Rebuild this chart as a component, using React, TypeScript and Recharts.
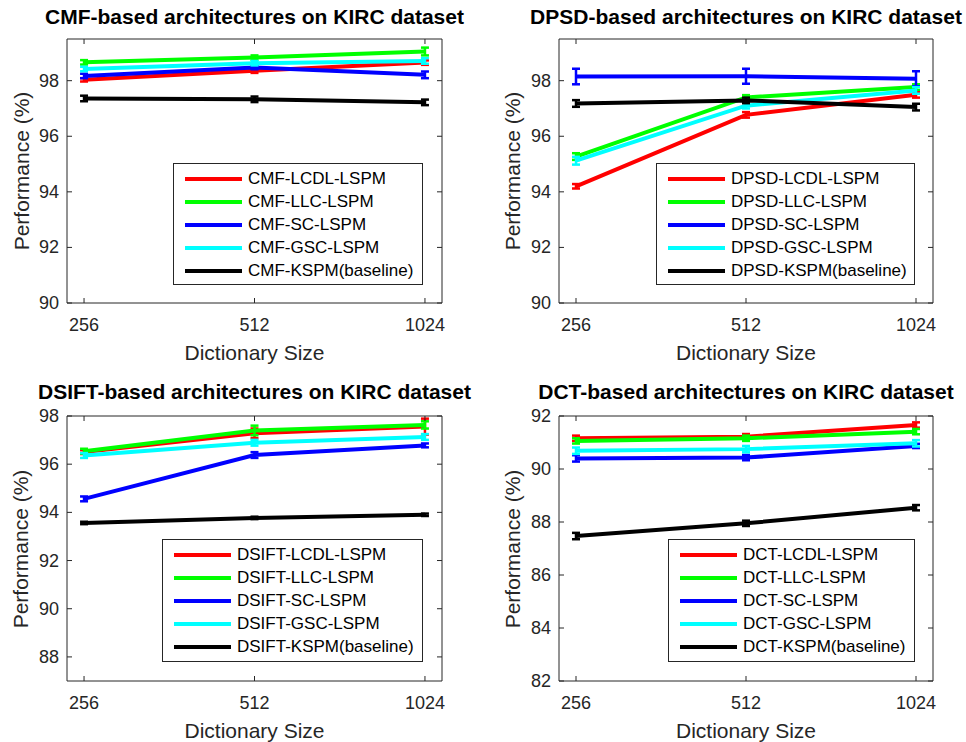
import { LineChart, Line, XAxis, YAxis, ErrorBar, Legend } from "recharts";

const dictSizes = ["256", "512", "1024"];
const methods = ["LCDL-LSPM", "LLC-LSPM", "SC-LSPM", "GSC-LSPM", "KSPM(baseline)"];
const colors = ["#ff0000", "#00ff00", "#0000ff", "#00ffff", "#000000"];

// rows follow `methods`, columns follow `dictSizes`
const cmfValues = [
  [98.03, 98.36, 98.65],
  [98.66, 98.83, 99.05],
  [98.17, 98.47, 98.21],
  [98.42, 98.63, 98.71],
  [97.36, 97.33, 97.22],
];
const cmfErrors = [
  [0.06, 0.08, 0.08],
  [0.08, 0.08, 0.14],
  [0.08, 0.06, 0.12],
  [0.08, 0.08, 0.1],
  [0.1, 0.1, 0.1],
];

const dpsdValues = [
  [94.2, 96.77, 97.49],
  [95.27, 97.4, 97.77],
  [98.15, 98.16, 98.07],
  [95.12, 97.1, 97.65],
  [97.18, 97.29, 97.05],
];
const dpsdErrors = [
  [0.08, 0.1, 0.1],
  [0.12, 0.08, 0.1],
  [0.28, 0.27, 0.27],
  [0.14, 0.1, 0.12],
  [0.12, 0.1, 0.12],
];

const dsiftValues = [
  [96.5, 97.28, 97.56],
  [96.54, 97.4, 97.63],
  [94.56, 96.38, 96.78],
  [96.36, 96.89, 97.13],
  [93.56, 93.77, 93.9],
];
const dsiftErrors = [
  [0.08, 0.2, 0.33],
  [0.1, 0.2, 0.15],
  [0.1, 0.12, 0.08],
  [0.1, 0.12, 0.12],
  [0.05, 0.05, 0.05],
];

const dctValues = [
  [91.16, 91.22, 91.66],
  [91.06, 91.16, 91.41],
  [90.4, 90.43, 90.87],
  [90.69, 90.75, 90.97],
  [87.47, 87.95, 88.54],
];
const dctErrors = [
  [0.1, 0.1, 0.1],
  [0.1, 0.1, 0.1],
  [0.12, 0.1, 0.08],
  [0.12, 0.12, 0.12],
  [0.12, 0.1, 0.1],
];

const ticks9098 = [90, 92, 94, 96, 98];
const ticks8898 = [88, 90, 92, 94, 96, 98];
const ticks8292 = [82, 84, 86, 88, 90, 92];

const AXIS = "#262626";
const FONT = '"Liberation Sans", Arial, Helvetica, sans-serif';
const W = 483;
const H = 371;

function buildRows(values: number[][], errors: number[][]) {
  return dictSizes.map((_, i) => {
    const row: Record<string, number> = { pos: i + 1 };
    values.forEach((s, k) => {
      row["v" + k] = s[i];
      row["e" + k] = errors[k][i];
    });
    return row;
  });
}

function LeftTick({ x, y, payload }: any) {
  return (
    <g>
      <line x1={x} y1={y} x2={x + 5} y2={y} stroke={AXIS} />
      <text x={x - 8} y={y} textAnchor="end" dominantBaseline="central" fontSize={18} fill={AXIS} fontFamily={FONT}>
        {payload.value}
      </text>
    </g>
  );
}

function RightTick({ x, y }: any) {
  return <line x1={x} y1={y} x2={x - 5} y2={y} stroke={AXIS} />;
}

function BottomTick({ x, y, payload }: any) {
  return (
    <g>
      <line x1={x} y1={y} x2={x} y2={y - 5} stroke={AXIS} />
      <text x={x} y={y + 22} textAnchor="middle" dominantBaseline="central" fontSize={18} fill={AXIS} fontFamily={FONT}>
        {dictSizes[payload.value - 1]}
      </text>
    </g>
  );
}

function TopTick({ x, y }: any) {
  return <line x1={x} y1={y} x2={x} y2={y + 5} stroke={AXIS} />;
}

function LegendBox({ prefix }: { prefix: string }) {
  return (
    <div
      style={{
        width: "100%",
        height: "100%",
        boxSizing: "border-box",
        border: `1px solid ${AXIS}`,
        background: "#fff",
        paddingTop: 3,
        fontFamily: FONT,
        fontSize: 17,
        color: "#000",
      }}
    >
      {methods.map((m, k) => (
        <div key={m} style={{ display: "flex", alignItems: "center", height: 23.2, whiteSpace: "nowrap" }}>
          <svg width={69} height={8} style={{ flex: "none" }}>
            <line x1={11} y1={4} x2={68} y2={4} stroke={colors[k]} strokeWidth={4} />
          </svg>
          <span style={{ marginLeft: 5 }}>{`${prefix}-${m}`}</span>
        </div>
      ))}
    </div>
  );
}

type PanelProps = {
  prefix: string;
  values: number[][];
  errors: number[][];
  yDomain: [number, number];
  yTicks: number[];
  left: number;
  top: number;
  plot: { top: number; right: number; bottom: number; left: number };
  legend: { left: number; top: number; width: number; height: number };
  ylabelX: number;
};

function Panel(p: PanelProps) {
  const rows = buildRows(p.values, p.errors);
  const plotCx = p.plot.left + (W - p.plot.left - p.plot.right) / 2;
  const plotCy = p.plot.top + (H - p.plot.top - p.plot.bottom) / 2;
  const plotBottom = H - p.plot.bottom;
  // every axis takes 1px, so the margins are one less than the plot offsets
  const margin = { top: p.plot.top - 1, right: p.plot.right - 1, bottom: p.plot.bottom - 1, left: p.plot.left - 1 };
  return (
    <div style={{ position: "absolute", left: p.left, top: p.top, width: W, height: H }}>
      <LineChart width={W} height={H} data={rows} margin={margin}>
        <XAxis
          dataKey="pos"
          type="number"
          domain={[0.9, 3.1]}
          ticks={[1, 2, 3]}
          interval={0}
          allowDataOverflow
          height={1}
          tickSize={0}
          tickMargin={0}
          tickLine={false}
          axisLine={{ stroke: AXIS }}
          tick={BottomTick}
        />
        <XAxis
          xAxisId="top"
          orientation="top"
          dataKey="pos"
          type="number"
          domain={[0.9, 3.1]}
          ticks={[1, 2, 3]}
          interval={0}
          allowDataOverflow
          height={1}
          tickSize={0}
          tickMargin={0}
          tickLine={false}
          axisLine={{ stroke: AXIS }}
          tick={TopTick}
        />
        <YAxis
          type="number"
          domain={p.yDomain}
          ticks={p.yTicks}
          interval={0}
          allowDataOverflow
          width={1}
          tickSize={0}
          tickMargin={0}
          tickLine={false}
          axisLine={{ stroke: AXIS }}
          tick={LeftTick}
        />
        <YAxis
          yAxisId="right"
          orientation="right"
          type="number"
          domain={p.yDomain}
          ticks={p.yTicks}
          interval={0}
          allowDataOverflow
          width={1}
          tickSize={0}
          tickMargin={0}
          tickLine={false}
          axisLine={{ stroke: AXIS }}
          tick={RightTick}
        />
        {methods.map((m, k) => (
          <Line
            key={m}
            type="linear"
            dataKey={"v" + k}
            name={`${p.prefix}-${m}`}
            stroke={colors[k]}
            strokeWidth={4}
            dot={false}
            activeDot={false}
            isAnimationActive={false}
          >
            <ErrorBar dataKey={"e" + k} width={4} strokeWidth={2.5} stroke={colors[k]} direction="y" isAnimationActive={false} />
          </Line>
        ))}
        <Legend
          layout="vertical"
          verticalAlign="middle"
          align="center"
          wrapperStyle={{ left: p.legend.left, top: p.legend.top, width: p.legend.width, height: p.legend.height }}
          content={() => <LegendBox prefix={p.prefix} />}
        />
      </LineChart>
      <div
        style={{
          position: "absolute",
          left: plotCx,
          top: p.top === 0 ? 17 : 21,
          transform: "translate(-50%, -50%)",
          fontFamily: FONT,
          fontWeight: "bold",
          fontSize: 21,
          whiteSpace: "nowrap",
          color: "#000",
        }}
      >
        {`${p.prefix}-based architectures on KIRC dataset`}
      </div>
      <div
        style={{
          position: "absolute",
          left: p.ylabelX,
          top: plotCy,
          transform: "translate(-50%, -50%) rotate(-90deg)",
          fontFamily: FONT,
          fontSize: 21,
          whiteSpace: "nowrap",
          color: AXIS,
        }}
      >
        Performance (%)
      </div>
      <div
        style={{
          position: "absolute",
          left: plotCx,
          top: plotBottom + 50,
          transform: "translate(-50%, -50%)",
          fontFamily: FONT,
          fontSize: 21,
          whiteSpace: "nowrap",
          color: AXIS,
        }}
      >
        Dictionary Size
      </div>
    </div>
  );
}

export default function App() {
  return (
    <div style={{ position: "absolute", left: 0, top: 0, width: 966, height: 742, background: "#fff" }}>
      <Panel
        prefix="CMF"
        values={cmfValues}
        errors={cmfErrors}
        yDomain={[90, 99.5]}
        yTicks={ticks9098}
        left={0}
        top={0}
        plot={{ top: 39, right: 41, bottom: 68, left: 67 }}
        legend={{ left: 173, top: 163, width: 250, height: 122 }}
        ylabelX={22}
      />
      <Panel
        prefix="DPSD"
        values={dpsdValues}
        errors={dpsdErrors}
        yDomain={[90, 99.5]}
        yTicks={ticks9098}
        left={483}
        top={0}
        plot={{ top: 39, right: 33, bottom: 68, left: 76 }}
        legend={{ left: 173, top: 163, width: 259, height: 122 }}
        ylabelX={30}
      />
      <Panel
        prefix="DSIFT"
        values={dsiftValues}
        errors={dsiftErrors}
        yDomain={[87, 98]}
        yTicks={ticks8898}
        left={0}
        top={371}
        plot={{ top: 45, right: 41, bottom: 61, left: 67 }}
        legend={{ left: 162, top: 168, width: 261, height: 123 }}
        ylabelX={21}
      />
      <Panel
        prefix="DCT"
        values={dctValues}
        errors={dctErrors}
        yDomain={[82, 92]}
        yTicks={ticks8292}
        left={483}
        top={371}
        plot={{ top: 45, right: 33, bottom: 61, left: 76 }}
        legend={{ left: 185, top: 168, width: 247, height: 123 }}
        ylabelX={30}
      />
    </div>
  );
}
